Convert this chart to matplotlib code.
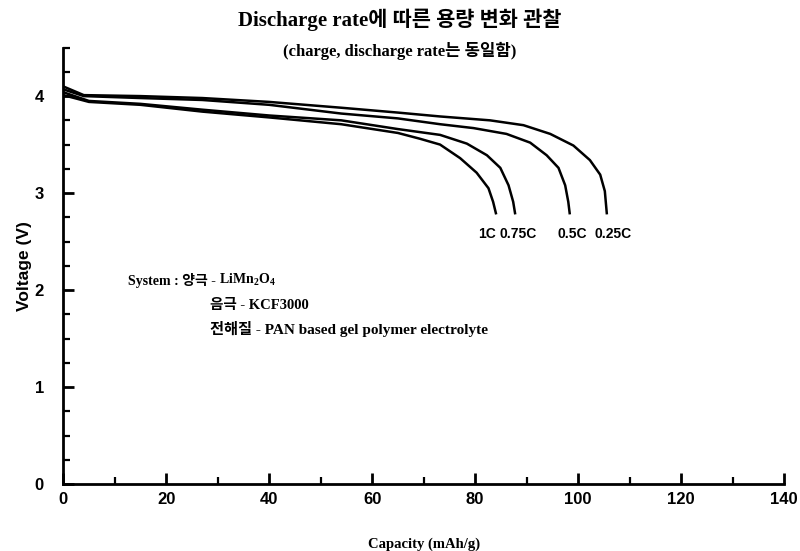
import matplotlib
matplotlib.use("Agg")
import matplotlib.pyplot as plt
from matplotlib.ticker import MultipleLocator

# ---- data ----
cap_025 = [0, 4, 15, 27, 40, 54, 65, 73.2, 82.9, 89.4, 94.6, 99.1, 102.3, 104.3, 105.2, 105.6]
v_025 = [4.10, 4.01, 4.00, 3.98, 3.94, 3.88, 3.83, 3.79, 3.75, 3.70, 3.61, 3.49, 3.34, 3.19, 3.02, 2.78]

cap_05 = [0, 4, 15, 27, 40, 54, 65, 73.2, 79.7, 86.1, 90.7, 93.9, 96.2, 97.5, 98.1, 98.4]
v_05 = [4.07, 4.00, 3.98, 3.96, 3.91, 3.82, 3.77, 3.71, 3.67, 3.61, 3.52, 3.39, 3.26, 3.08, 2.91, 2.78]

cap_075 = [0, 5, 15, 27, 40, 54, 65, 73.2, 78.4, 82.3, 84.9, 86.5, 87.4, 87.8]
v_075 = [4.04, 3.95, 3.92, 3.86, 3.80, 3.75, 3.66, 3.60, 3.51, 3.39, 3.26, 3.08, 2.91, 2.78]

cap_1 = [0, 5, 15, 27, 40, 54, 65, 69.3, 73.2, 77.1, 80.3, 82.6, 83.5, 84.1]
v_1 = [4.01, 3.94, 3.91, 3.84, 3.78, 3.71, 3.62, 3.56, 3.50, 3.36, 3.21, 3.05, 2.91, 2.78]

rate_labels = ["1C", "0.75C", "0.5C", "0.25C"]
label_x = [82.3, 88.3, 98.8, 106.8]
label_y = 2.58

title = "Discharge rate에 따른 용량 변화 관찰"
subtitle = "(charge, discharge rate는 동일함)"
xlabel = "Capacity (mAh/g)"
ylabel = "Voltage (V)"

serif_kr = ["Liberation Serif", "Noto Sans CJK KR"]

plt.rcParams["mathtext.fontset"] = "custom"
plt.rcParams["mathtext.rm"] = "Liberation Serif:bold"
plt.rcParams["mathtext.bf"] = "Liberation Serif:bold"

fig = plt.figure(figsize=(8.0, 5.51), dpi=100)
ax = fig.add_axes([0.079, 0.1216, 0.901, 0.792])

for c, v in [(cap_025, v_025), (cap_05, v_05), (cap_075, v_075), (cap_1, v_1)]:
    ax.plot(c, v, color="black", lw=1.8, solid_joinstyle="round", solid_capstyle="butt")

ax.set_xlim(0, 140)
ax.set_ylim(0, 4.5)
ax.xaxis.set_major_locator(MultipleLocator(20))
ax.xaxis.set_minor_locator(MultipleLocator(10))
ax.yaxis.set_major_locator(MultipleLocator(1))
ax.yaxis.set_minor_locator(MultipleLocator(0.25))
ax.set_yticks([0, 1, 2, 3, 4])

for s in ["top", "right"]:
    ax.spines[s].set_visible(False)
for s in ["left", "bottom"]:
    ax.spines[s].set_linewidth(2.0)

ax.tick_params(which="major", direction="in", length=8, width=2, labelsize=12, pad=6)
ax.tick_params(which="minor", direction="in", length=5, width=1.6)
for lab in ax.get_xticklabels() + ax.get_yticklabels():
    lab.set_fontfamily("Liberation Sans")
    lab.set_fontweight("bold")
ax.tick_params(axis="y", pad=14)

ax.set_xlabel(xlabel, family="Liberation Serif", fontsize=10.5, fontweight="bold", labelpad=22)
ax.set_ylabel(ylabel, family="Liberation Sans", fontsize=12.5, fontweight="bold", labelpad=2)

fig.text(0.50, 0.965, title, family=serif_kr, fontsize=15, fontweight="bold",
         ha="center", va="center")
fig.text(0.50, 0.908, subtitle, family=serif_kr, fontsize=12, fontweight="bold",
         ha="center", va="center")

for t, x in zip(rate_labels, label_x):
    ax.text(x, label_y, t, family="Liberation Sans", fontsize=10, fontweight="bold",
            ha="center", va="center")

# system annotation
t1 = ax.text(12.5, 2.05, "System : 양극 - ", family=serif_kr, fontsize=10,
             fontweight="bold", ha="left", va="baseline")
ax.annotate(r"LiMn$_\mathbf{2}$O$_\mathbf{4}$", xy=(1, 0), xycoords=t1,
            family="Liberation Serif", fontsize=10, fontweight="bold",
            ha="left", va="bottom")
ax.text(28.5, 1.80, "음극 - KCF3000", family=serif_kr, fontsize=10.5,
        fontweight="bold", ha="left", va="baseline")
ax.text(28.5, 1.55, "전해질 - PAN based gel polymer electrolyte", family=serif_kr,
        fontsize=11, fontweight="bold", ha="left", va="baseline")

fig.savefig("out.png", dpi=100)
